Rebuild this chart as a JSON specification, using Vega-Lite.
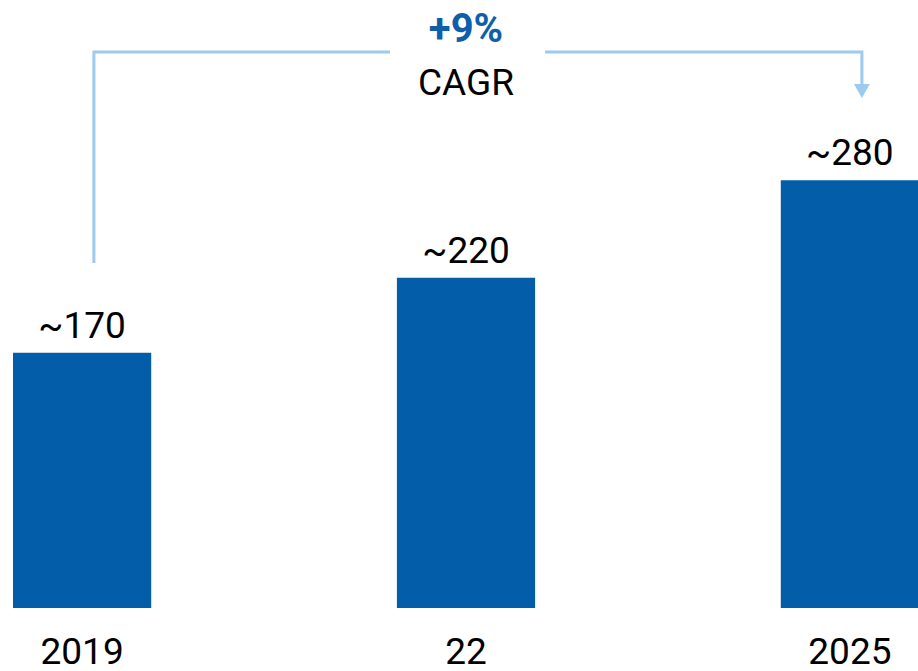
{
  "$schema": "https://vega.github.io/schema/vega-lite/v6.json",
  "width": 918,
  "height": 608,
  "autosize": {"type": "none"},
  "padding": {"top": 0, "left": 0, "right": 0, "bottom": 63},
  "background": "white",
  "config": {"view": {"stroke": null}, "font": "Roboto"},
  "resolve": {"scale": {"x": "independent"}},
  "layer": [
    {
      "data": {"values": [
        {"year": "2019", "value": 170, "label": "~170"},
        {"year": "22", "value": 220, "label": "~220"},
        {"year": "2025", "value": 285, "label": "~280"}
      ]},
      "encoding": {
        "x": {"field": "year", "type": "nominal", "sort": null,
          "scale": {"range": [13, 919], "paddingInner": 0.64, "paddingOuter": 0},
          "axis": {"title": null, "labelAngle": 0, "labelFont": "Roboto", "labelFontSize": 37, "labelColor": "black", "labelPadding": 55, "labelBaseline": "alphabetic", "ticks": false, "tickSize": 0, "domain": false, "grid": false}},
        "y": {"field": "value", "type": "quantitative", "scale": {"domain": [0, 405], "nice": false, "zero": true}, "axis": null}
      },
      "layer": [
        {"mark": {"type": "bar", "color": "#045DA9"}},
        {"mark": {"type": "text", "dy": -15, "baseline": "alphabetic", "font": "Roboto", "fontSize": 37, "color": "black"},
         "encoding": {"text": {"field": "label"}}}
      ]
    },
    {
      "encoding": {
        "x": {"field": "pos", "type": "quantitative", "scale": {"domain": [-0.21354, 2.17708], "nice": false, "zero": false}, "axis": null},
        "y": {"field": "val", "type": "quantitative"}
      },
      "layer": [
        {
          "data": {"values": [
            {"seg": "a", "ord": 1, "pos": 0.031, "val": 229.8},
            {"seg": "a", "ord": 2, "pos": 0.031, "val": 370.4},
            {"seg": "a", "ord": 3, "pos": 0.802, "val": 370.4},
            {"seg": "b", "ord": 1, "pos": 1.206, "val": 370.4},
            {"seg": "b", "ord": 2, "pos": 2.031, "val": 370.4},
            {"seg": "b", "ord": 3, "pos": 2.031, "val": 349}
          ]},
          "mark": {"type": "line", "color": "#9DCAEE", "strokeWidth": 3, "strokeJoin": "miter", "strokeCap": "butt"},
          "encoding": {"detail": {"field": "seg"}, "order": {"field": "ord", "type": "quantitative"}}
        },
        {
          "data": {"values": [{"pos": 2.031, "val": 344.4}]},
          "mark": {"type": "point", "shape": "triangle-down", "filled": true, "size": 256, "color": "#9DCAEE", "opacity": 1, "strokeWidth": 0}
        },
        {
          "data": {"values": [{"pos": 1.0, "val": 377.1, "label": "+9%"}]},
          "mark": {"type": "text", "baseline": "alphabetic", "font": "Roboto", "fontSize": 40, "fontWeight": "bold", "color": "#0F5EAA"},
          "encoding": {"text": {"field": "label"}}
        },
        {
          "data": {"values": [{"pos": 1.0, "val": 341.8, "label": "CAGR"}]},
          "mark": {"type": "text", "baseline": "alphabetic", "font": "Roboto", "fontSize": 37, "color": "black"},
          "encoding": {"text": {"field": "label"}}
        }
      ]
    }
  ]
}
